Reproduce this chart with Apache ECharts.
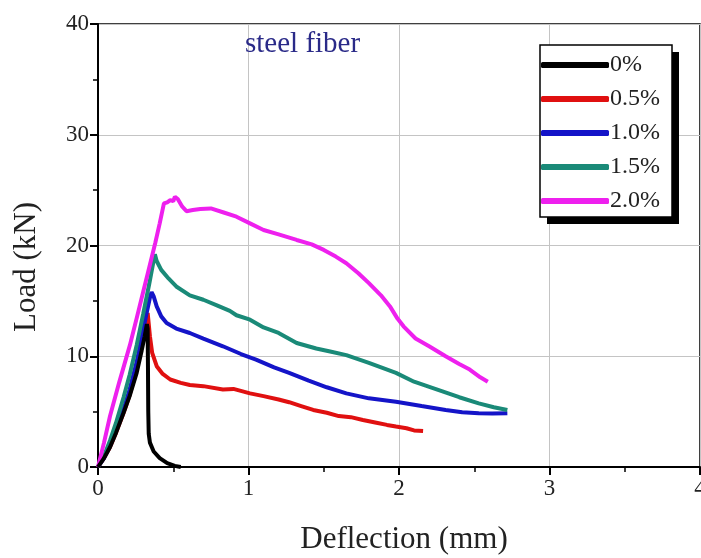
<!DOCTYPE html>
<html><head><meta charset="utf-8">
<script src="https://cdn.jsdelivr.net/npm/echarts@6/dist/echarts.min.js"></script>
<style>html,body{margin:0;padding:0;background:#fff}#c{width:701px;height:558px}</style>
</head><body><div id="c"></div>
<script>
const seriesNames = ['0%', '0.5%', '1.0%', '1.5%', '2.0%'];
const seriesColors = ['#000000', '#e01010', '#1414c8', '#1a8a78', '#ee20ee'];
const xTicks = [0, 1, 2, 3, 4];
const yTicks = [0, 10, 20, 30, 40];

const fiber00 = [[0,0],[0.04,0.8],[0.08,1.8],[0.12,3.1],[0.17,4.9],[0.21,6.4],[0.257,8.5],[0.29,10.5],[0.31,11.8],[0.325,12.9],[0.33,12.5],[0.332,9],[0.334,5],[0.337,3],[0.345,2.2],[0.37,1.4],[0.41,0.8],[0.46,0.35],[0.51,0.1],[0.55,0]];
const fiber05 = [[0,0],[0.04,0.8],[0.08,1.8],[0.12,3.1],[0.17,4.9],[0.21,6.5],[0.257,8.8],[0.29,11],[0.315,12.8],[0.33,13.9],[0.345,11.8],[0.36,10.3],[0.39,9.1],[0.43,8.4],[0.48,7.9],[0.55,7.6],[0.61,7.4],[0.7,7.3],[0.83,7.0],[0.9,7.05],[1.01,6.65],[1.1,6.4],[1.2,6.1],[1.27,5.85],[1.35,5.5],[1.43,5.15],[1.52,4.9],[1.6,4.6],[1.68,4.5],[1.76,4.25],[1.85,4.0],[1.92,3.8],[1.98,3.65],[2.05,3.5],[2.1,3.3],[2.16,3.25]];
const fiber10 = [[0,0],[0.04,0.8],[0.08,1.9],[0.12,3.3],[0.17,5.2],[0.21,7],[0.257,9.5],[0.29,11.7],[0.32,13.7],[0.345,15.3],[0.356,15.8],[0.37,15.4],[0.39,14.5],[0.42,13.6],[0.456,13.0],[0.52,12.5],[0.61,12.1],[0.7,11.6],[0.83,10.9],[0.95,10.2],[1.05,9.7],[1.17,9.0],[1.27,8.5],[1.4,7.8],[1.52,7.2],[1.65,6.65],[1.8,6.2],[1.98,5.9],[2.15,5.5],[2.31,5.15],[2.42,4.95],[2.53,4.85],[2.62,4.82],[2.72,4.85]];
const fiber15 = [[0,0],[0.04,1.0],[0.08,2.4],[0.12,4],[0.17,6.3],[0.21,8.3],[0.257,11],[0.3,13.8],[0.34,16.5],[0.365,18.3],[0.378,19.2],[0.39,18.6],[0.42,17.8],[0.47,17.0],[0.52,16.3],[0.61,15.5],[0.7,15.1],[0.79,14.6],[0.876,14.1],[0.92,13.7],[1.01,13.3],[1.1,12.6],[1.2,12.1],[1.32,11.2],[1.45,10.7],[1.55,10.4],[1.65,10.1],[1.8,9.4],[1.98,8.5],[2.1,7.7],[2.25,7.0],[2.4,6.3],[2.53,5.75],[2.63,5.4],[2.72,5.15]];
const fiber20 = [[0,0],[0.04,2.2],[0.08,4.6],[0.14,7.6],[0.212,11],[0.26,13.6],[0.3,15.8],[0.34,18],[0.38,20.2],[0.41,22],[0.438,23.8],[0.46,23.9],[0.48,24.1],[0.5,24.0],[0.511,24.4],[0.53,24.2],[0.56,23.5],[0.588,23.1],[0.63,23.2],[0.68,23.3],[0.75,23.35],[0.83,23.0],[0.92,22.6],[1.01,22.0],[1.1,21.4],[1.2,21.0],[1.32,20.5],[1.42,20.1],[1.5,19.6],[1.58,19.0],[1.65,18.4],[1.73,17.5],[1.8,16.6],[1.88,15.5],[1.94,14.5],[1.99,13.4],[2.03,12.7],[2.11,11.6],[2.2,10.9],[2.31,10.0],[2.4,9.3],[2.47,8.8],[2.54,8.1],[2.59,7.7]];
const allData = [fiber00, fiber05, fiber10, fiber15, fiber20];

const FONT = '"Liberation Serif", "DejaVu Serif", serif';
const chart = echarts.init(document.getElementById('c'), null, {renderer: 'canvas'});
chart.setOption({
  backgroundColor: '#ffffff',
  animation: false,
  grid: {left: 98, right: 1, top: 24, bottom: 91, show: true, borderColor: '#000', borderWidth: 1.5,
         backgroundColor: 'transparent', containLabel: false, outerBoundsMode: 'none'},
  xAxis: {
    type: 'value', min: xTicks[0], max: xTicks[xTicks.length - 1], interval: 1,
    axisLine: {show: true, lineStyle: {color: '#000', width: 2}},
    axisTick: {show: true, inside: false, length: 8, lineStyle: {color: '#000', width: 2}},
    minorTick: {show: true, splitNumber: 2, length: 5, lineStyle: {color: '#000', width: 1.5}},
    axisLabel: {fontFamily: FONT, fontSize: 23, color: '#222', margin: 10, showMaxLabel: true},
    splitLine: {show: true, lineStyle: {color: '#c4c4c4', width: 1}}
  },
  yAxis: {
    type: 'value', min: yTicks[0], max: yTicks[yTicks.length - 1], interval: 10,
    axisLine: {show: true, lineStyle: {color: '#000', width: 2}},
    axisTick: {show: true, inside: false, length: 8, lineStyle: {color: '#000', width: 2}},
    minorTick: {show: true, splitNumber: 2, length: 5, lineStyle: {color: '#000', width: 1.5}},
    axisLabel: {fontFamily: FONT, fontSize: 23, color: '#222', margin: 9},
    splitLine: {show: true, lineStyle: {color: '#c4c4c4', width: 1}}
  },
  legend: {
    orient: 'vertical', left: 540, top: 45, z: 20,
    data: seriesNames,
    icon: 'roundRect', itemWidth: 68, itemHeight: 6, itemGap: 10,
    padding: [8, 4, 4, 1],
    backgroundColor: 'transparent', borderWidth: 0,
    textStyle: {fontFamily: FONT, fontSize: 24, color: '#222', padding: [0, 0, 0, -4]}
  },
  graphic: [
    {type: 'rect', z: 15, shape: {x: 547, y: 52, width: 132, height: 172}, style: {fill: '#000'}},
    {type: 'rect', z: 16, shape: {x: 540, y: 45, width: 132, height: 172}, style: {fill: '#fff', stroke: '#000', lineWidth: 1.5}},
    {type: 'text', z: 16, left: 245, top: 30,
     style: {text: 'steel fiber', fontFamily: FONT, fontSize: 29, fill: '#2a2a88'}},
    {type: 'text', z: 16, x: 27, y: 267, rotation: Math.PI / 2,
     style: {text: 'Load (kN)', fontFamily: FONT, fontSize: 31, fill: '#222', textAlign: 'center', textVerticalAlign: 'middle'}},
    {type: 'text', z: 16, x: 404, y: 540,
     style: {text: 'Deflection (mm)', fontFamily: FONT, fontSize: 31, fill: '#222', textAlign: 'center', textVerticalAlign: 'middle'}}
  ],
  series: allData.map((d, i) => ({
    name: seriesNames[i], type: 'line', data: d,
    showSymbol: false, symbol: 'none', smooth: false,
    lineStyle: {color: seriesColors[i], width: 4},
    itemStyle: {color: seriesColors[i]},
    z: 2 + (i === 0 ? 5 : i)
  }))
});
</script></body></html>
